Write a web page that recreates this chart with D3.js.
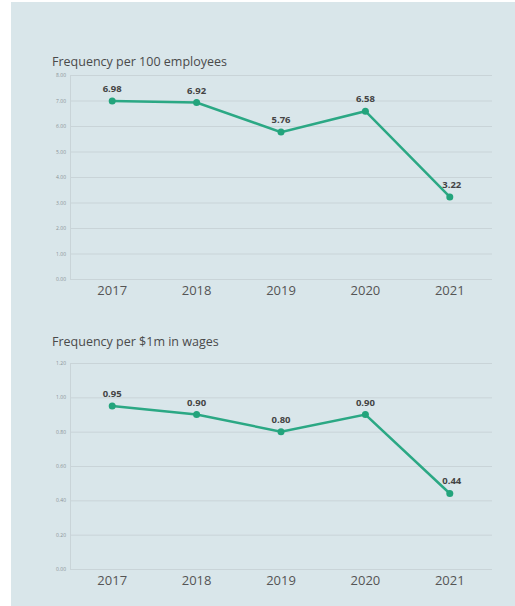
<!DOCTYPE html>
<html><head><meta charset="utf-8">
<script src="https://cdn.jsdelivr.net/npm/d3@7"></script>
<style>body{margin:0;background:#fff;}svg{display:block;}</style>
</head><body>
<svg id="c" width="515" height="606"></svg>
<script>
const years = ["2017","2018","2019","2020","2021"];
const perEmployees = [6.98, 6.92, 5.76, 6.58, 3.22];
const perWages = [0.95, 0.90, 0.80, 0.90, 0.44];
const ticks1 = [0,1,2,3,4,5,6,7,8];
const ticks2 = [0,0.2,0.4,0.6,0.8,1.0,1.2];

const svg = d3.select("#c");
svg.append("rect").attr("x",11).attr("y",2).attr("width",504).attr("height",604).attr("fill","#d9e6ea");

function chart(cfg){
  const g = svg.append("g");
  const x = d3.scaleBand().domain(years).range([70,492]);
  const y = d3.scaleLinear().domain(cfg.domain).range([cfg.y0, cfg.y1]);
  g.append("text").attr("x",52).attr("y",cfg.titleY).text(cfg.title)
    .attr("font-family","Open Sans, sans-serif").attr("font-size",12.5).attr("fill","#4a4a4a");
  const ya = g.append("g").attr("transform","translate(70,0)")
    .call(d3.axisLeft(y).tickValues(cfg.ticks).tickFormat(d3.format(".2f")).tickSize(-422).tickPadding(4));
  ya.select(".domain").attr("stroke","#c9d4d8");
  ya.selectAll(".tick line").attr("stroke","#c9d4d8").attr("stroke-width",1);
  ya.selectAll(".tick text").attr("font-size",5).attr("fill","#8a9296").attr("font-family","Open Sans, sans-serif");
  const xa = g.append("g").attr("transform",`translate(0,${cfg.y0})`)
    .call(d3.axisBottom(x).tickSize(0).tickPadding(7));
  xa.select(".domain").remove();
  xa.selectAll(".tick text").attr("font-size",13).attr("fill","#555").attr("font-family","Open Sans, sans-serif");
  const cx = d => x(d) + x.bandwidth()/2;
  const line = d3.line().x((d,i)=>cx(years[i])).y(d=>y(d));
  g.append("path").datum(cfg.values).attr("d",line).attr("fill","none")
    .attr("stroke","#2ba884").attr("stroke-width",2.5);
  g.selectAll("circle").data(cfg.values).join("circle")
    .attr("cx",(d,i)=>cx(years[i])).attr("cy",d=>y(d)).attr("r",3.5).attr("fill","#23a47c");
  g.selectAll("text.lbl").data(cfg.values).join("text").attr("class","lbl")
    .attr("x",(d,i)=>cx(years[i]) + (i===4?2:0)).attr("y",d=>y(d)-9)
    .attr("text-anchor","middle").attr("font-size",9.5).attr("font-weight","bold")
    .attr("font-family","Open Sans, sans-serif").attr("fill","#444")
    .text(d=>d.toFixed(2));
}

chart({title:"Frequency per 100 employees", titleY:66, domain:[0,8], y0:279, y1:75, ticks:ticks1, values:perEmployees});
chart({title:"Frequency per $1m in wages", titleY:346, domain:[0,1.2], y0:569, y1:363, ticks:ticks2, values:perWages});
</script>
</body></html>
